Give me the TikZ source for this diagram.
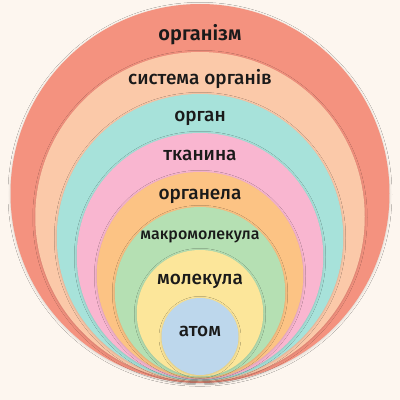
\documentclass[tikz,border=0pt]{standalone}
\usepackage{fontspec}
\setmainfont{Fira Sans}[UprightFont=* Medium, BoldFont=* SemiBold]
\usetikzlibrary{shadows.blur}
\definecolor{bgc}{HTML}{FDF6EF}
\definecolor{csalmon}{HTML}{F4927F}
\definecolor{cpeach}{HTML}{FBC9A9}
\definecolor{ccyan}{HTML}{A7E2DA}
\definecolor{cpink}{HTML}{F9B6D0}
\definecolor{corange}{HTML}{FCC384}
\definecolor{cgreen}{HTML}{B5E0B3}
\definecolor{cyellow}{HTML}{FCE69A}
\definecolor{cblue}{HTML}{BDD7EC}
\definecolor{ctext}{HTML}{1A1A1A}
\tikzset{
  ring/.style={circle, inner sep=0pt, outer sep=0pt, minimum size=#1,
    blur shadow={shadow xshift=0pt, shadow yshift=-0.8pt, shadow blur radius=2.5pt, shadow opacity=16}},
  lbl/.style={anchor=base, text=ctext, inner sep=0pt, font=\fontsize{19}{22}\selectfont},
}
\begin{document}
\begin{tikzpicture}[x=1pt,y=-1pt]
\fill[bgc] (0,0) rectangle (400,400);
\useasboundingbox (0,0) rectangle (400,400);
\node[ring=379pt, fill=csalmon] (c1) at (200,193.5) {};
\node[ring=329.5pt, fill=cpeach] (c2) at (200,216.75) {};
\node[ring=286.5pt, fill=ccyan] (c3) at (200,237.25) {};
\node[ring=246.5pt, fill=cpink] (c4) at (200,256.25) {};
\node[ring=206.5pt, fill=corange] (c5) at (200,275.25) {};
\node[ring=170.5pt, fill=cgreen] (c6) at (200,292.25) {};
\node[ring=126.5pt, fill=cyellow] (c7) at (200,313.25) {};
\node[ring=77pt, fill=cblue] (c8) at (200,336.5) {};
\node[lbl, font=\bfseries\fontsize{20}{24}\selectfont] (t1) at (200,40.7) {організм};
\node[lbl] (t2) at (200,84) {система органів};
\node[lbl] (t3) at (200,121.7) {орган};
\node[lbl] (t4) at (200,160.7) {тканина};
\node[lbl] (t5) at (200,199) {органела};
\node[lbl, font=\fontsize{16}{19}\selectfont] (t6) at (200,239.3) {макромолекула};
\node[lbl] (t7) at (200,284) {молекула};
\node[lbl] (t8) at (200,336.7) {атом};
\end{tikzpicture}
\end{document}
